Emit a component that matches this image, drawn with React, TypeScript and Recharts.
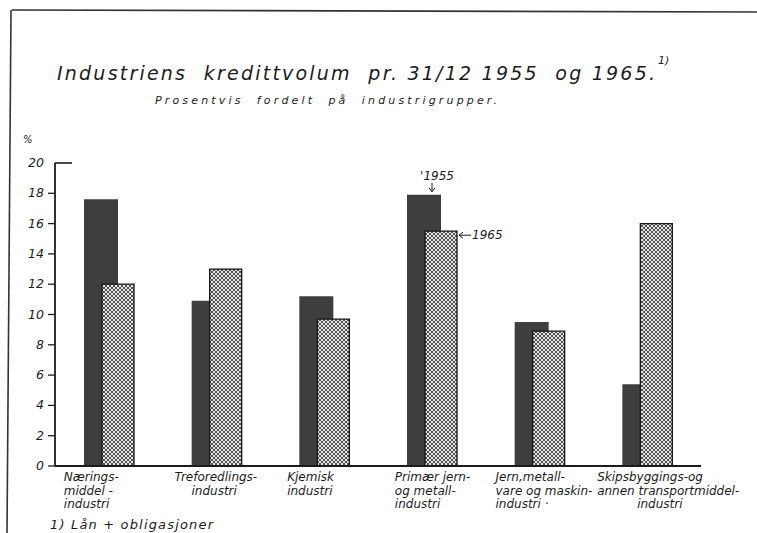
import { BarChart, Bar, XAxis, YAxis, LabelList } from 'recharts';

const CATEGORIES = [
  'Nærings-|middel -|industri',
  'Treforedlings-|industri',
  'Kjemisk|industri',
  'Primær jern-|og metall-|industri',
  'Jern,metall-|vare og maskin-|industri ·',
  'Skipsbyggings-og|annen transportmiddel-|industri',
];
const VALUES_1955 = [17.6, 10.9, 11.2, 17.9, 9.5, 5.4];
const VALUES_1965 = [12.0, 13.0, 9.7, 15.5, 8.9, 16.0];
const Y_TICKS = [0, 2, 4, 6, 8, 10, 12, 14, 16, 18, 20];

const TITLE = 'Industriens  kredittvolum  pr. 31/12 1955  og 1965.';
const SUBTITLE = 'Prosentvis  fordelt  på  industrigrupper.';
const FOOTNOTE = '1) Lån + obligasjoner';

// where each label starts relative to the band centre, and per-line indents
const LABEL_START = [-45, -42, -37, -37, -44, -50];
const LABEL_INDENT: Record<number, number[]> = { 1: [0, 17], 5: [0, 0, 40] };

const FONT = '"DejaVu Sans", sans-serif';
const INK = '#1c1c1c';

const data = CATEGORIES.map((name, i) => ({
  name,
  y1955: VALUES_1955[i],
  y1965: VALUES_1965[i],
}));

function YTick({ x, y, payload }: any) {
  const top = payload.value === 20;
  return (
    <g>
      {top ? (
        <line x1={x} x2={x + 17} y1={y} y2={y} stroke={INK} strokeWidth={1.6} />
      ) : (
        <line x1={x - 7} x2={x} y1={y} y2={y} stroke={INK} strokeWidth={1.3} />
      )}
      <text
        x={x - 11}
        y={y + 4}
        textAnchor="end"
        fontFamily={FONT}
        fontStyle="italic"
        fontSize={12.5}
        fill={INK}
      >
        {payload.value}
      </text>
    </g>
  );
}

function XTick({ x, y, payload, index }: any) {
  const lines = String(payload.value).split('|');
  const start = x + LABEL_START[index];
  const indent = LABEL_INDENT[index] || [];
  return (
    <g>
      {lines.map((line, i) => (
        <text
          key={i}
          x={start + (indent[i] || 0)}
          y={y + 15 + i * 13.5}
          fontFamily={FONT}
          fontStyle="italic"
          fontSize={12}
          fill={INK}
        >
          {line}
        </text>
      ))}
    </g>
  );
}

const Note1955 = ({ x, y, width, index }: any) => {
  if (index !== 3) return null;
  const cx = x + width / 2 + 8;
  return (
    <g fontFamily={FONT} fontStyle="italic" fill={INK}>
      <text x={cx + 5} y={y - 15} textAnchor="middle" fontSize={12}>
        '1955
      </text>
      <line x1={cx} x2={cx} y1={y - 12} y2={y - 3} stroke={INK} strokeWidth={1} />
      <path d={`M${cx - 3},${y - 7} L${cx},${y - 3} L${cx + 3},${y - 7}`} stroke={INK} fill="none" />
    </g>
  );
};

const Note1965 = ({ x, y, width, index }: any) => {
  if (index !== 3) return null;
  const lx = x + width + 2;
  return (
    <g fontFamily={FONT} fontStyle="italic" fill={INK}>
      <line x1={lx} x2={lx + 12} y1={y + 4} y2={y + 4} stroke={INK} strokeWidth={1} />
      <path d={`M${lx + 4},${y + 1} L${lx},${y + 4} L${lx + 4},${y + 7}`} stroke={INK} fill="none" />
      <text x={lx + 13} y={y + 8} fontSize={12}>
        1965
      </text>
    </g>
  );
};

export default function App() {
  return (
    <div style={{ position: 'absolute', left: 0, top: 0, width: 757, height: 533, background: '#fff' }}>
      <BarChart
        width={757}
        height={533}
        data={data}
        margin={{ top: 163, right: 56, bottom: 0, left: 0 }}
        barGap={-16}
      >
        <defs>
          <pattern id="xhatch" width="4" height="4" patternUnits="userSpaceOnUse">
            <rect width="4" height="4" fill="#e6e6e6" />
            <path d="M0,0 L4,4 M4,0 L0,4" stroke="#2a2a2a" strokeWidth={0.8} />
          </pattern>
        </defs>
        <XAxis
          dataKey="name"
          interval={0}
          height={67}
          tickSize={0}
          tickMargin={0}
          tickLine={false}
          axisLine={{ stroke: INK, strokeWidth: 1.8 }}
          tick={<XTick />}
        />
        <YAxis
          width={55}
          domain={[0, 20]}
          ticks={Y_TICKS}
          interval={0}
          tickSize={0}
          tickMargin={0}
          tickLine={false}
          axisLine={{ stroke: INK, strokeWidth: 1.8 }}
          tick={<YTick />}
        />
        <Bar dataKey="y1955" barSize={34} fill="#3e3e3e" isAnimationActive={false}>
          <LabelList dataKey="y1955" content={<Note1955 />} />
        </Bar>
        <Bar
          dataKey="y1965"
          barSize={32}
          fill="url(#xhatch)"
          stroke="#151515"
          strokeWidth={1.3}
          isAnimationActive={false}
        >
          <LabelList dataKey="y1965" content={<Note1965 />} />
        </Bar>
      </BarChart>

      <svg
        width={757}
        height={533}
        style={{ position: 'absolute', left: 0, top: 0, pointerEvents: 'none' }}
      >
        <line x1={12} y1={10} x2={757} y2={12} stroke="#333" strokeWidth={1.6} />
        <line x1={11} y1={10} x2={7} y2={533} stroke="#333" strokeWidth={1.6} />
        <g fontFamily={FONT} fontStyle="italic" fill={INK}>
          <text x={57} y={80} fontSize={19} textLength={598} lengthAdjust="spacing" style={{ whiteSpace: 'pre' }}>
            {TITLE}
          </text>
          <text x={658} y={64} fontSize={11}>
            1)
          </text>
          <text x={155} y={104} fontSize={11} textLength={342} lengthAdjust="spacing" style={{ whiteSpace: 'pre' }}>
            {SUBTITLE}
          </text>
          <text x={23} y={143} fontSize={10}>
            %
          </text>
          <text x={50} y={529} fontSize={13} textLength={163} lengthAdjust="spacing">
            {FOOTNOTE}
          </text>
        </g>
      </svg>
    </div>
  );
}
